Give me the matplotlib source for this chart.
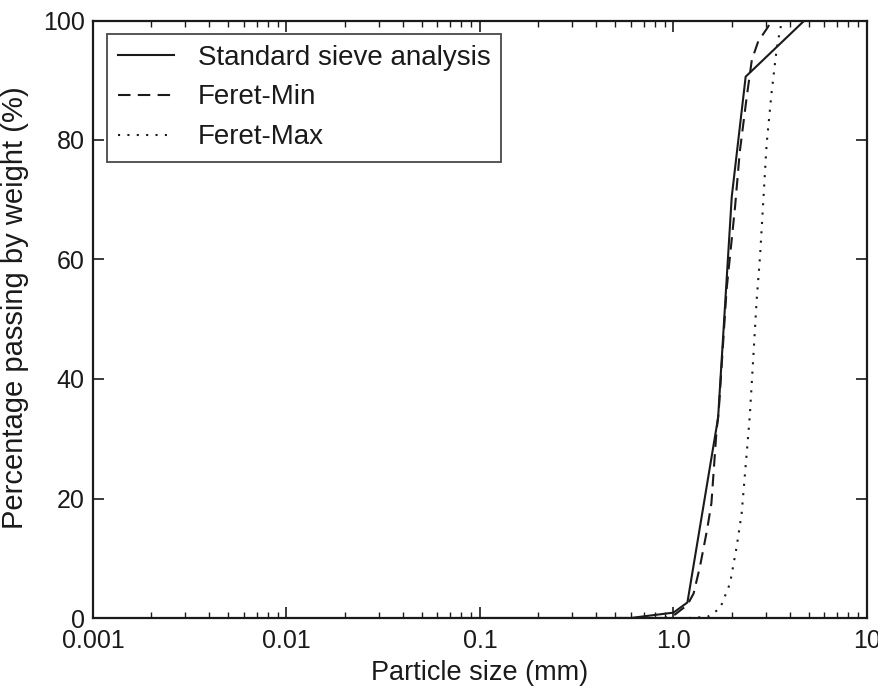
import matplotlib
matplotlib.use("Agg")
import matplotlib.pyplot as plt
from matplotlib.ticker import FixedLocator, FixedFormatter, LogLocator, NullFormatter

plt.rcParams['font.family'] = ['Liberation Sans', 'DejaVu Sans']

# Standard sieve analysis (sieve opening in mm, % passing)
sieve_size = [0.075, 0.15, 0.3, 0.6, 1.0, 1.18, 1.7, 2.0, 2.36, 4.75, 10.0]
sieve_pass = [0.0, 0.0, 0.0, 0.0, 0.9, 2.6, 33.5, 70.5, 90.6, 100.0, 100.0]

# Image analysis: minimum Feret diameter
feret_min_size = [0.5, 0.9, 1.02, 1.18, 1.27, 1.37, 1.49, 1.57, 1.67, 1.71, 1.88,
                  2.08, 2.2, 2.39, 2.54, 2.74, 3.09, 3.16]
feret_min_pass = [0.0, 0.0, 0.6, 2.2, 4.1, 8.6, 14.7, 19.2, 31.5, 34.3, 54.9,
                  68.8, 78.0, 87.2, 93.4, 96.5, 99.0, 100.0]

# Image analysis: maximum Feret diameter
feret_max_size = [1.2, 1.5, 1.74, 1.96, 2.12, 2.25, 2.39, 2.48, 2.58, 2.69, 2.80,
                  2.91, 3.03, 3.21, 3.41, 3.55, 3.65]
feret_max_pass = [0.0, 0.2, 1.6, 5.8, 11.9, 17.5, 27.6, 33.9, 43.2, 53.2, 60.5,
                  69.7, 79.4, 87.8, 95.1, 98.4, 100.0]

x_ticks = [0.001, 0.01, 0.1, 1.0, 10.0]
x_tick_labels = ['0.001', '0.01', '0.1', '1.0', '10']
y_ticks = [0, 20, 40, 60, 80, 100]

W, H = 879, 686
fig = plt.figure(figsize=(W / 100, H / 100), dpi=100)
ax = fig.add_axes([93 / W, 1 - 618 / H, (867 - 93) / W, (618 - 20.5) / H])

ink = '#1a1a1a'
lw = 1.5
ax.plot(sieve_size, sieve_pass, color=ink, lw=lw, ls='-', label='Standard sieve analysis')
ax.plot(feret_min_size, feret_min_pass, color=ink, lw=lw, ls=(0, (6, 3.5)), label='Feret-Min')
ax.plot(feret_max_size, feret_max_pass, color=ink, lw=lw, ls=(0, (1, 3.5)), label='Feret-Max')

ax.set_xscale('log')
ax.set_xlim(0.001, 10)
ax.set_ylim(0, 100)
ax.xaxis.set_major_locator(FixedLocator(x_ticks))
ax.xaxis.set_major_formatter(FixedFormatter(x_tick_labels))
ax.xaxis.set_minor_locator(LogLocator(base=10, subs=range(2, 10), numticks=20))
ax.xaxis.set_minor_formatter(NullFormatter())
ax.set_yticks(y_ticks)

ax.tick_params(which='both', direction='in', top=True, right=True, color=ink, labelcolor=ink)
ax.tick_params(which='major', length=8, width=1.2, labelsize=18)
ax.tick_params(axis='x', which='major', pad=8)
ax.tick_params(axis='y', which='major', pad=6)
ax.tick_params(which='minor', length=4, width=1.0)
for s in ax.spines.values():
    s.set_linewidth(1.6)
    s.set_color(ink)

ax.set_xlabel('Particle size (mm)', fontsize=19.5, labelpad=5, color=ink)
ax.set_ylabel('Percentage passing by weight (%)', fontsize=21, color=ink)
ax.yaxis.set_label_coords(-0.083, 0.52)

leg = ax.legend(loc='upper left', bbox_to_anchor=((107 - 93) / 774, 1 - 13 / 597.5),
                fontsize=20, frameon=True, fancybox=False,
                edgecolor=ink, handlelength=2.0, borderpad=0.4,
                labelspacing=0.5, borderaxespad=0.0, handletextpad=0.86)
leg.get_frame().set_linewidth(1.3)
for t in leg.get_texts():
    t.set_color(ink)

fig.savefig('out.png', dpi=100)
